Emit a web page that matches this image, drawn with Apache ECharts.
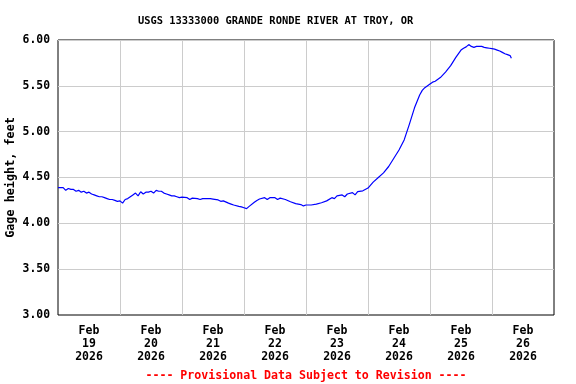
<!DOCTYPE html>
<html>
<head>
<meta charset="utf-8">
<script src="https://cdn.jsdelivr.net/npm/echarts@6/dist/echarts.min.js"></script>
<style>html,body{margin:0;padding:0;background:#fff}#c{width:576px;height:384px}</style>
</head>
<body>
<div id="c"></div>
<script>
// Hours since Feb 19 2026 00:00 and gage height (feet)
const hours = [0,1,2,3,4,5,6,7,8,9,10,11,12,13,14,15,16,17,18,19,20,21,22,23,24,25,26,27,28,29,30,31,32,33,34,35,36,37,38,39,40,41,42,43,44,45,46,47,48,50,51,52,54,55,56,58,59,60,62,63,64,66,67,68,70,71,72,73,74,76,77,78,80,81,82,84,85,86,88,90,92,94,95,96,98,100,102,104,106,107,108,110,111,112,114,115,116,118,120,122,124,126,128,130,132,134,136,138,140,141,142,144,145,146,148,150,152,154,156,157,158,159,160,161,162,163,164,165,166,167,168,169,170,171,172,173,174,175,175.5];
const gage  = [4.39,4.39,4.39,4.36,4.38,4.37,4.37,4.35,4.36,4.34,4.35,4.33,4.34,4.32,4.31,4.30,4.29,4.29,4.28,4.27,4.26,4.26,4.25,4.24,4.245,4.22,4.26,4.27,4.29,4.31,4.33,4.30,4.345,4.32,4.34,4.34,4.35,4.33,4.36,4.35,4.35,4.33,4.32,4.31,4.30,4.30,4.29,4.28,4.285,4.28,4.26,4.275,4.27,4.26,4.27,4.27,4.27,4.265,4.255,4.24,4.245,4.22,4.21,4.20,4.185,4.18,4.17,4.16,4.185,4.23,4.25,4.265,4.28,4.26,4.28,4.28,4.26,4.275,4.26,4.235,4.215,4.205,4.19,4.20,4.20,4.21,4.225,4.245,4.28,4.27,4.30,4.31,4.29,4.32,4.335,4.31,4.345,4.355,4.385,4.45,4.50,4.55,4.62,4.71,4.80,4.91,5.08,5.26,5.40,5.45,5.48,5.52,5.54,5.55,5.59,5.65,5.72,5.81,5.89,5.91,5.925,5.95,5.93,5.92,5.93,5.93,5.93,5.92,5.915,5.91,5.905,5.90,5.89,5.88,5.865,5.85,5.84,5.83,5.80,5.79,5.775];
const dayLabels = ['Feb\n19\n2026','Feb\n20\n2026','Feb\n21\n2026','Feb\n22\n2026','Feb\n23\n2026','Feb\n24\n2026','Feb\n25\n2026','Feb\n26\n2026'];
const titleText = 'USGS 13333000 GRANDE RONDE RIVER AT TROY, OR';
const footerText = '---- Provisional Data Subject to Revision ----';
const yName = 'Gage height, feet';

const FONT = '"DejaVu Sans Mono", "Liberation Mono", monospace';
const chart = echarts.init(document.getElementById('c'), null, {renderer: 'canvas'});
chart.setOption({
  animation: false,
  backgroundColor: '#ffffff',
  title: [
    {text: titleText, left: 138, top: 16, padding: 0, textStyle: {fontFamily: FONT, fontSize: 10.4, fontWeight: 'bold', color: '#000'}},
    {text: footerText, left: 306, textAlign: 'center', top: 370, padding: 0, textStyle: {fontFamily: FONT, fontSize: 11.6, fontWeight: 'bold', color: '#ff0000'}}
  ],
  grid: {left: 58, right: 22, top: 40, bottom: 69, containLabel: false, outerBoundsMode: 'none',
         show: true, borderColor: '#000', borderWidth: 1, backgroundColor: 'transparent'},
  xAxis: [
    {type: 'value', min: 0, max: 192, show: false},
    {type: 'category', data: dayLabels, boundaryGap: true, position: 'bottom',
     axisLine: {show: false}, axisTick: {show: false, interval: 0},
     splitLine: {show: true, interval: 0, showMinLine: false, showMaxLine: false, lineStyle: {color: '#cccccc', width: 1}},
     axisLabel: {interval: 0, margin: 10, lineHeight: 13, fontFamily: FONT, fontSize: 11.5, fontWeight: 'bold', color: '#000'}}
  ],
  yAxis: {
    type: 'value', min: 3, max: 6, interval: 0.5,
    name: yName, nameLocation: 'middle', nameGap: 41, nameRotate: 90, nameMoveOverlap: false,
    nameTextStyle: {fontFamily: FONT, fontSize: 11.8, fontWeight: 'bold', color: '#000'},
    axisLine: {show: false}, axisTick: {show: false},
    splitLine: {show: true, showMinLine: false, showMaxLine: true, lineStyle: {color: '#cccccc', width: 1}},
    axisLabel: {margin: 8, fontFamily: FONT, fontSize: 11.4, fontWeight: 'bold', color: '#000', formatter: v => v.toFixed(2)}
  },
  series: [{
    type: 'line', xAxisIndex: 0, showSymbol: false, symbol: 'none',
    data: hours.map((h, i) => [h, gage[i]]),
    lineStyle: {color: '#0000ff', width: 1.2}, itemStyle: {color: '#0000ff'}
  }]
});
</script>
</body>
</html>
